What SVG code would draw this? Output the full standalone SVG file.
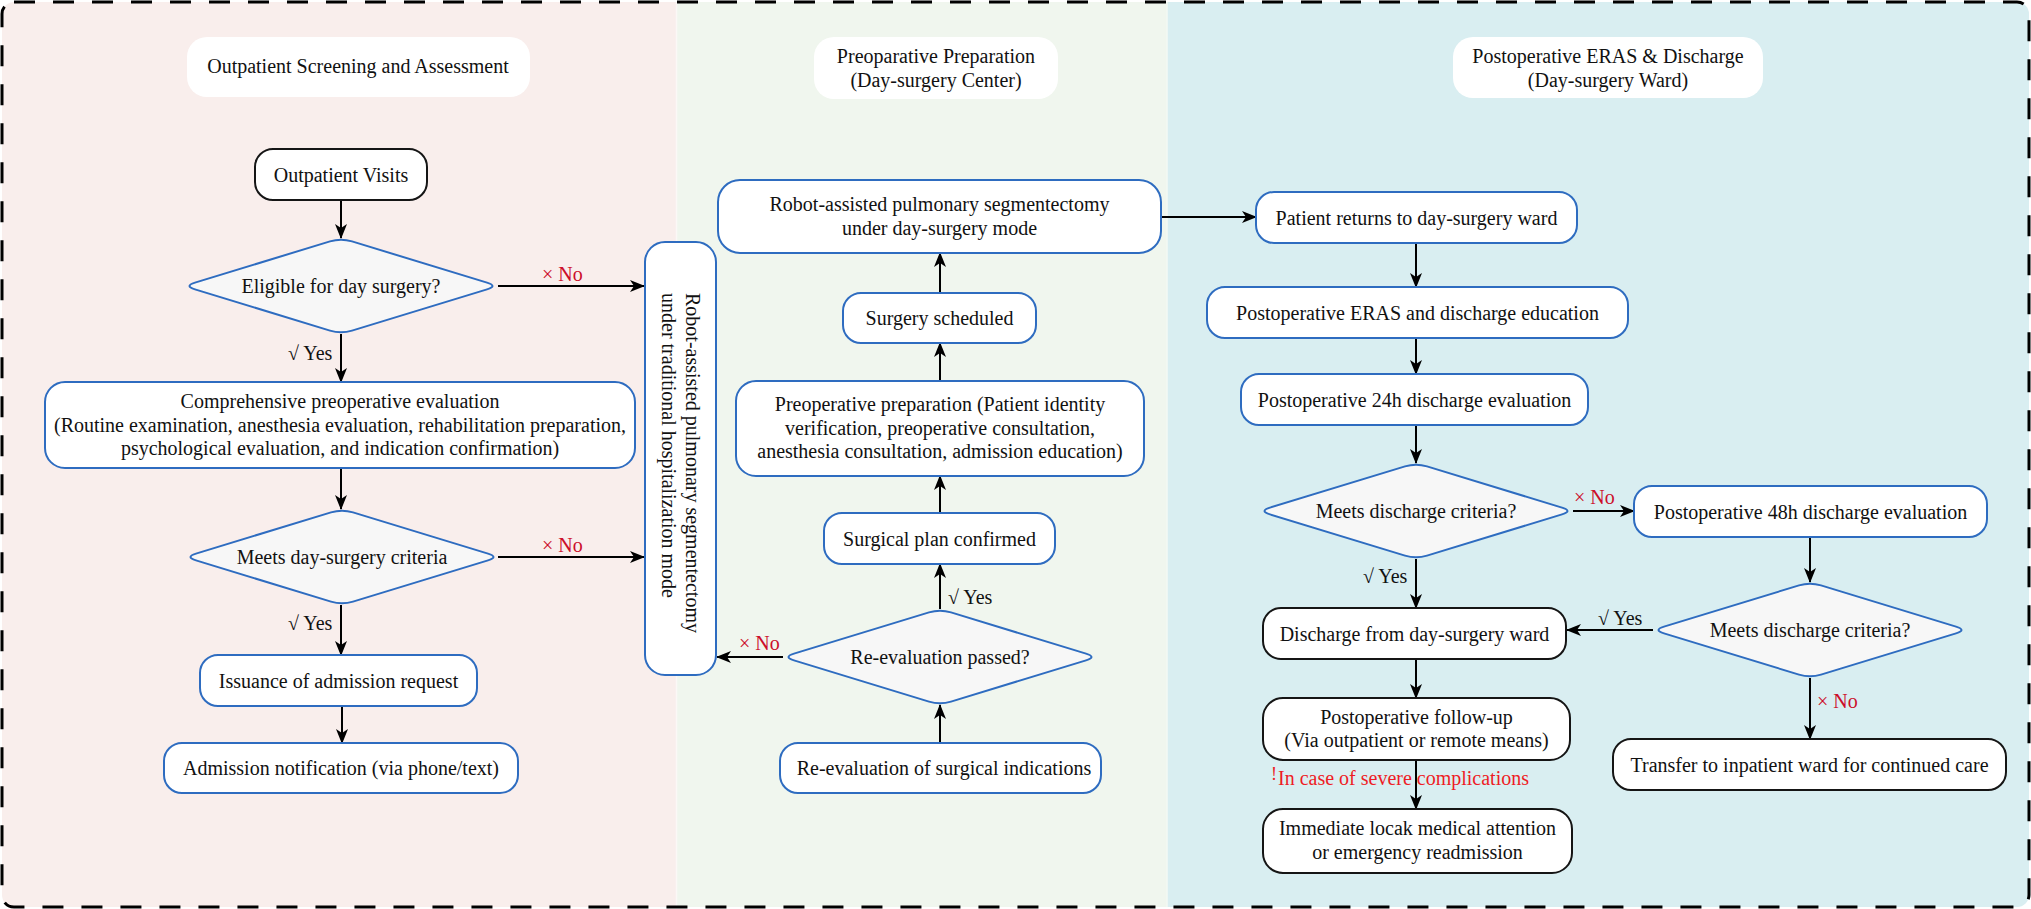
<svg xmlns="http://www.w3.org/2000/svg" xmlns:xlink="http://www.w3.org/1999/xlink" width="2031" height="909" viewBox="0 0 2031 909">
<defs>
<style>
text{font-family:"Liberation Serif","Times New Roman",serif;font-size:20px;fill:#111;text-anchor:middle;dominant-baseline:central}
.box{fill:#fff;stroke:#2e6cc0;stroke-width:2}
.blk{fill:#fff;stroke:#151515;stroke-width:2}
.hdr{fill:#fff;stroke:none}
.dia{fill:#f7f7f7;stroke:#2e6cc0;stroke-width:2}
.c{stroke:#000;stroke-width:2;fill:none;marker-end:url(#ah)}
.lbl{text-anchor:start}
.no{fill:#cc0f2b}
.warn{fill:#ee1c25;text-anchor:start}
</style>
<marker id="ah" markerUnits="userSpaceOnUse" markerWidth="15" markerHeight="12" viewBox="0 0 15 12" refX="14" refY="6" orient="auto">
<path d="M0,0 L15,6 L0,12 L4,6 Z" fill="#000"/>
</marker>
<path id="diamond" d="M-11,-44.6 Q0,-48 11,-44.6 L146,-3.4 Q157,0 146,3.4 L11,44.6 Q0,48 -11,44.6 L-146,3.4 Q-157,0 -146,-3.4 Z"/>
<clipPath id="frame"><rect x="2" y="2" width="2027" height="905" rx="12"/></clipPath>
</defs>

<g id="panels" clip-path="url(#frame)">
<rect x="0" y="0" width="676" height="909" fill="#f9eeec"/>
<rect x="676" y="0" width="491" height="909" fill="#f0f6ee"/>
<rect x="1167" y="0" width="864" height="909" fill="#d9eef1"/>
<line x1="676.5" y1="0" x2="676.5" y2="909" stroke="#fbf8f6" stroke-width="1.5"/>
<line x1="1167" y1="0" x2="1167" y2="909" stroke="#f3f8f3" stroke-width="1.5"/>
</g>
<rect id="border" x="2" y="2" width="2027" height="905" rx="12" fill="none" stroke="#000" stroke-width="3" stroke-dasharray="21 18"/>

<g id="hdr-outpatient"><rect class="hdr" x="187" y="37" width="343" height="60" rx="20"/><text x="358" y="66">Outpatient Screening and Assessment</text></g>
<g id="hdr-preop"><rect class="hdr" x="814" y="37" width="244" height="62" rx="20"/><text x="936" y="56">Preoparative Preparation</text><text x="936" y="80">(Day-surgery Center)</text></g>
<g id="hdr-postop"><rect class="hdr" x="1453" y="37" width="310" height="61" rx="20"/><text x="1608" y="56">Postoperative ERAS &amp; Discharge</text><text x="1608" y="80">(Day-surgery Ward)</text></g>

<g id="connectors">
<line class="c" x1="341" y1="200" x2="341" y2="238"/>
<line class="c" x1="498" y1="286" x2="644" y2="286"/>
<line class="c" x1="341" y1="334" x2="341" y2="382"/>
<line class="c" x1="341" y1="468" x2="341" y2="509"/>
<line class="c" x1="498" y1="557" x2="644" y2="557"/>
<line class="c" x1="341" y1="605" x2="341" y2="655"/>
<line class="c" x1="342" y1="706" x2="342" y2="743"/>
<line class="c" x1="940" y1="743" x2="940" y2="705"/>
<line class="c" x1="783" y1="657" x2="717" y2="657"/>
<line class="c" x1="940" y1="609" x2="940" y2="564"/>
<line class="c" x1="940" y1="513" x2="940" y2="476"/>
<line class="c" x1="940" y1="381" x2="940" y2="343"/>
<line class="c" x1="940" y1="293" x2="940" y2="253"/>
<line class="c" x1="1161" y1="217" x2="1256" y2="217"/>
<line class="c" x1="1416" y1="243" x2="1416" y2="287"/>
<line class="c" x1="1416" y1="338" x2="1416" y2="374"/>
<line class="c" x1="1416" y1="425" x2="1416" y2="463"/>
<line class="c" x1="1573" y1="511" x2="1634" y2="511"/>
<line class="c" x1="1416" y1="559" x2="1416" y2="608"/>
<line class="c" x1="1810" y1="537" x2="1810" y2="582"/>
<line class="c" x1="1653" y1="630" x2="1567" y2="630"/>
<line class="c" x1="1810" y1="678" x2="1810" y2="739"/>
<line class="c" x1="1416" y1="659" x2="1416" y2="698"/>
<line class="c" x1="1416" y1="760" x2="1416" y2="809"/>
<text class="lbl no" x="542" y="274">× No</text>
<text class="lbl" x="288" y="353">√ Yes</text>
<text class="lbl no" x="542" y="545">× No</text>
<text class="lbl" x="288" y="623">√ Yes</text>
<text class="lbl no" x="739" y="643">× No</text>
<text class="lbl" x="948" y="597">√ Yes</text>
<text class="lbl no" x="1574" y="497">× No</text>
<text class="lbl" x="1363" y="576">√ Yes</text>
<text class="lbl" x="1598" y="618">√ Yes</text>
<text class="lbl no" x="1817" y="701">× No</text>
<text class="warn" x="1271" y="774" style="font-size:18px">!</text>
<text class="warn" x="1278" y="778">In case of severe complications</text>
</g>

<g id="n-outpatient-visits"><rect class="blk" x="255" y="149" width="172" height="51" rx="18"/><text x="341" y="174.5">Outpatient Visits</text></g>
<g id="n-eligible"><use href="#diamond" class="dia" transform="translate(341,286)"/><text x="341" y="286">Eligible for day surgery?</text></g>
<g id="n-comprehensive"><rect class="box" x="45" y="382" width="590" height="86" rx="20"/><text x="340" y="401">Comprehensive preoperative evaluation</text><text x="340" y="425">(Routine examination, anesthesia evaluation, rehabilitation preparation,</text><text x="340" y="448">psychological evaluation, and indication confirmation)</text></g>
<g id="n-meets-day"><use href="#diamond" class="dia" transform="translate(342,557)"/><text x="342" y="557">Meets day-surgery criteria</text></g>
<g id="n-issuance"><rect class="box" x="200" y="655" width="277" height="51" rx="18"/><text x="338.5" y="680.5">Issuance of admission request</text></g>
<g id="n-admission"><rect class="box" x="164" y="743" width="354" height="50" rx="18"/><text x="341" y="768">Admission notification (via phone/text)</text></g>

<g id="n-traditional"><rect class="box" x="645" y="242" width="71" height="433" rx="20"/>
<text transform="translate(686,293) rotate(90)" style="text-anchor:start;dominant-baseline:alphabetic">Robot-assisted pulmonary segmentectomy</text>
<text transform="translate(662,293) rotate(90)" style="text-anchor:start;dominant-baseline:alphabetic">under traditional hospitalization mode</text></g>

<g id="n-robot-day"><rect class="box" x="718" y="180" width="443" height="73" rx="22"/><text x="939.5" y="204">Robot-assisted pulmonary segmentectomy</text><text x="939.5" y="228">under day-surgery mode</text></g>
<g id="n-scheduled"><rect class="box" x="843" y="293" width="193" height="50" rx="18"/><text x="939.5" y="318">Surgery scheduled</text></g>
<g id="n-preop"><rect class="box" x="736" y="381" width="408" height="95" rx="20"/><text x="940" y="404">Preoperative preparation (Patient identity</text><text x="940" y="428">verification, preoperative consultation,</text><text x="940" y="451">anesthesia consultation, admission education)</text></g>
<g id="n-plan"><rect class="box" x="824" y="513" width="231" height="51" rx="18"/><text x="939.5" y="538.5">Surgical plan confirmed</text></g>
<g id="n-reeval"><use href="#diamond" class="dia" transform="translate(940,657)"/><text x="940" y="657">Re-evaluation passed?</text></g>
<g id="n-indications"><rect class="box" x="780" y="743" width="321" height="50" rx="18"/><text x="944" y="768">Re-evaluation of surgical indications</text></g>

<g id="n-returns"><rect class="box" x="1256" y="192" width="321" height="51" rx="18"/><text x="1416.5" y="217.5">Patient returns to day-surgery ward</text></g>
<g id="n-eras"><rect class="box" x="1207" y="287" width="421" height="51" rx="18"/><text x="1417.5" y="312.5">Postoperative ERAS and discharge education</text></g>
<g id="n-24h"><rect class="box" x="1241" y="374" width="347" height="51" rx="18"/><text x="1414.5" y="399.5">Postoperative 24h discharge evaluation</text></g>
<g id="n-meets-1"><use href="#diamond" class="dia" transform="translate(1416,511)"/><text x="1416" y="511">Meets discharge criteria?</text></g>
<g id="n-48h"><rect class="box" x="1634" y="486" width="353" height="51" rx="18"/><text x="1810.5" y="511.5">Postoperative 48h discharge evaluation</text></g>
<g id="n-meets-2"><use href="#diamond" class="dia" transform="translate(1810,630)"/><text x="1810" y="630">Meets discharge criteria?</text></g>
<g id="n-discharge"><rect class="blk" x="1263" y="608" width="303" height="51" rx="18"/><text x="1414.5" y="633.5">Discharge from day-surgery ward</text></g>
<g id="n-followup"><rect class="blk" x="1263" y="698" width="307" height="62" rx="20"/><text x="1416.5" y="717">Postoperative follow-up</text><text x="1416.5" y="740">(Via outpatient or remote means)</text></g>
<g id="n-immediate"><rect class="blk" x="1263" y="809" width="309" height="64" rx="20"/><text x="1417.5" y="828">Immediate locak medical attention</text><text x="1417.5" y="852">or emergency readmission</text></g>
<g id="n-transfer"><rect class="blk" x="1613" y="739" width="393" height="51" rx="18"/><text x="1809.5" y="764.5">Transfer to inpatient ward for continued care</text></g>
</svg>
